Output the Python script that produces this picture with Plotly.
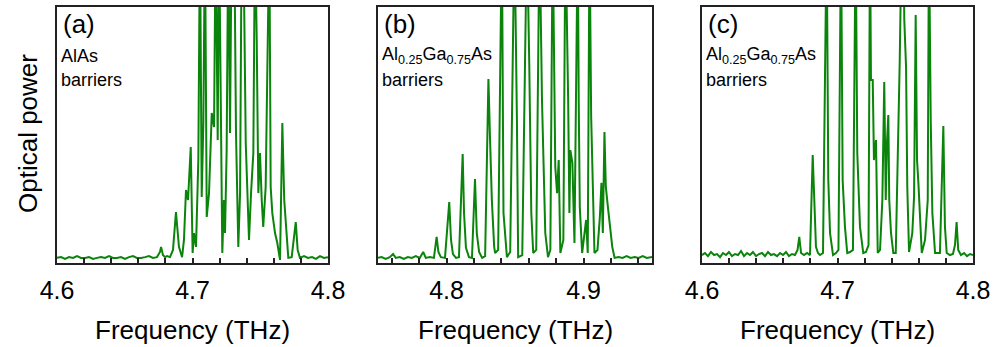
import plotly.graph_objects as go

# ---------------- data ----------------
# Panel (a): AlAs barriers
freq_a = [4.6000, 4.6030, 4.6059, 4.6089, 4.6118, 4.6148, 4.6177, 4.6207, 4.6236, 4.6266,
          4.6295, 4.6325, 4.6354, 4.6384, 4.6413, 4.6443, 4.6472, 4.6502, 4.6531, 4.6561,
          4.6590, 4.6620, 4.6649, 4.6679, 4.6708, 4.6738, 4.6760, 4.6768, 4.6782, 4.6797,
          4.6812, 4.6834, 4.6856, 4.6878, 4.6900, 4.6923, 4.6937, 4.6952, 4.6967, 4.6987,
          4.7001, 4.7011, 4.7026, 4.7043, 4.7055, 4.7068, 4.7080, 4.7092, 4.7105, 4.7122,
          4.7142, 4.7159, 4.7171, 4.7186, 4.7196, 4.7208, 4.7220, 4.7232, 4.7240, 4.7252,
          4.7264, 4.7277, 4.7289, 4.7299, 4.7308, 4.7321, 4.7338, 4.7351, 4.7363, 4.7369,
          4.7375, 4.7393, 4.7407, 4.7417, 4.7432, 4.7449, 4.7461, 4.7474, 4.7486, 4.7498,
          4.7511, 4.7522, 4.7540, 4.7555, 4.7567, 4.7577, 4.7589, 4.7609, 4.7626, 4.7646,
          4.7663, 4.7677, 4.7690, 4.7707, 4.7732, 4.7762, 4.7776, 4.7793, 4.7823, 4.7852,
          4.7882, 4.7911, 4.7941, 4.7970, 4.8000]
power_a = [2.0, 2.3, 1.6, 2.3, 2.0, 2.7, 2.0, 2.0, 2.3, 1.6,
           2.0, 2.3, 2.0, 2.7, 2.0, 2.0, 2.3, 1.6, 2.3, 2.7,
           2.0, 2.0, 2.3, 2.7, 2.0, 2.3, 4.3, 6.3, 3.1, 2.3,
           2.7, 2.3, 5.1, 19.9, 6.3, 2.3, 9.0, 28.5, 24.6, 45.3,
           3.9, 11.7, 6.3, 40.2, 130.0, 25.8, 54.7, 130.0, 18.0, 27.3,
           58.6, 53.1, 130.0, 48.0, 130.0, 76.6, 3.9, 24.6, 11.7, 44.1,
           130.0, 50.8, 130.0, 100.0, 130.0, 50.8, 6.3, 27.3, 130.0, 100.0,
           130.0, 46.9, 24.6, 9.0, 27.3, 43.0, 130.0, 87.1, 27.3, 43.0,
           24.6, 14.1, 29.7, 91.0, 130.0, 29.7, 19.5, 11.7, 7.8, 1.2,
           54.7, 24.6, 14.1, 2.0, 2.3, 16.0, 5.1, 2.0, 2.7, 2.0,
           2.3, 1.6, 2.7, 2.0, 2.3]

# Panel (b): Al0.25Ga0.75As barriers
freq_b = [4.7500, 4.7527, 4.7556, 4.7586, 4.7610, 4.7630, 4.7659, 4.7688, 4.7718, 4.7747,
          4.7776, 4.7805, 4.7830, 4.7849, 4.7879, 4.7908, 4.7928, 4.7941, 4.7959, 4.7989,
          4.8020, 4.8033, 4.8047, 4.8069, 4.8091, 4.8118, 4.8128, 4.8142, 4.8164, 4.8186,
          4.8208, 4.8221, 4.8238, 4.8260, 4.8282, 4.8306, 4.8318, 4.8331, 4.8348, 4.8355,
          4.8377, 4.8404, 4.8416, 4.8441, 4.8465, 4.8496, 4.8514, 4.8523, 4.8553, 4.8587,
          4.8604, 4.8619, 4.8633, 4.8655, 4.8679, 4.8697, 4.8721, 4.8741, 4.8758, 4.8775,
          4.8794, 4.8807, 4.8819, 4.8831, 4.8853, 4.8868, 4.8888, 4.8897, 4.8904, 4.8919,
          4.8934, 4.8958, 4.8965, 4.8973, 4.8990, 4.9019, 4.9031, 4.9044, 4.9056, 4.9071,
          4.9080, 4.9102, 4.9119, 4.9131, 4.9141, 4.9153, 4.9163, 4.9178, 4.9192, 4.9210,
          4.9227, 4.9256, 4.9285, 4.9315, 4.9344, 4.9374, 4.9403, 4.9432, 4.9462, 4.9500]
power_b = [2.0, 2.3, 1.6, 2.3, 3.5, 2.0, 2.3, 1.6, 2.3, 2.0,
           2.7, 2.0, 4.3, 2.0, 2.3, 2.0, 10.2, 4.3, 2.3, 2.0,
           23.8, 9.0, 3.5, 2.0, 2.3, 42.6, 19.5, 5.9, 2.3, 2.0,
           32.8, 11.7, 4.3, 2.0, 2.7, 71.9, 48.0, 24.6, 6.3, 3.9,
           5.1, 130.0, 19.5, 2.3, 4.3, 130.0, 55.9, 2.3, 3.1, 130.0,
           78.1, 19.5, 3.9, 5.1, 130.0, 63.7, 11.7, 2.3, 5.1, 130.0,
           37.5, 27.3, 40.2, 3.9, 9.0, 130.0, 63.7, 19.5, 44.1, 39.1,
           7.8, 130.0, 63.7, 21.9, 3.9, 16.8, 3.9, 130.0, 57.0, 24.6,
           3.9, 5.1, 17.6, 31.3, 11.7, 51.2, 29.7, 21.9, 14.1, 6.3,
           2.0, 2.3, 2.0, 2.7, 2.0, 2.3, 2.0, 2.7, 2.0, 2.3]

# Panel (c): Al0.25Ga0.75As barriers
freq_c = [4.6000, 4.6022, 4.6044, 4.6066, 4.6089, 4.6111, 4.6133, 4.6155, 4.6177, 4.6199,
          4.6221, 4.6244, 4.6266, 4.6288, 4.6310, 4.6332, 4.6354, 4.6376, 4.6399, 4.6421,
          4.6443, 4.6465, 4.6487, 4.6509, 4.6531, 4.6554, 4.6576, 4.6598, 4.6620, 4.6642,
          4.6664, 4.6686, 4.6705, 4.6718, 4.6731, 4.6753, 4.6775, 4.6797, 4.6817, 4.6827,
          4.6841, 4.6856, 4.6871, 4.6893, 4.6920, 4.6932, 4.6945, 4.6967, 4.6989, 4.7007,
          4.7026, 4.7038, 4.7055, 4.7072, 4.7092, 4.7114, 4.7134, 4.7146, 4.7166, 4.7190,
          4.7210, 4.7229, 4.7240, 4.7247, 4.7260, 4.7269, 4.7284, 4.7297, 4.7314, 4.7331,
          4.7345, 4.7356, 4.7365, 4.7375, 4.7382, 4.7395, 4.7412, 4.7430, 4.7444, 4.7459,
          4.7474, 4.7486, 4.7493, 4.7506, 4.7515, 4.7528, 4.7552, 4.7565, 4.7577, 4.7587,
          4.7597, 4.7607, 4.7622, 4.7646, 4.7666, 4.7675, 4.7688, 4.7700, 4.7720, 4.7756,
          4.7781, 4.7793, 4.7806, 4.7830, 4.7852, 4.7867, 4.7879, 4.7891, 4.7911, 4.7934,
          4.7956, 4.7978, 4.8000]
power_c = [3.1, 3.9, 2.7, 4.3, 3.1, 3.5, 2.3, 3.9, 3.1, 4.3,
           2.7, 3.5, 3.1, 4.7, 2.7, 3.9, 3.1, 4.3, 2.7, 3.5,
           3.9, 2.7, 4.3, 3.1, 3.5, 2.7, 3.9, 3.1, 4.3, 2.7,
           3.5, 3.1, 5.1, 10.2, 3.9, 3.1, 3.9, 3.1, 42.2, 24.6,
           6.3, 3.9, 3.1, 3.9, 130.0, 32.4, 11.7, 3.1, 3.9, 5.1,
           130.0, 32.4, 14.1, 3.9, 4.3, 5.1, 130.0, 43.0, 14.1, 3.9,
           4.3, 7.0, 130.0, 71.5, 71.5, 40.2, 48.0, 3.9, 5.1, 24.6,
           70.7, 24.6, 46.9, 57.8, 24.6, 11.7, 3.9, 3.9, 39.1, 78.1,
           130.0, 130.0, 94.9, 76.6, 29.7, 4.3, 11.7, 25.8, 96.9, 40.2,
           31.3, 21.9, 3.9, 9.0, 24.6, 130.0, 55.9, 19.5, 3.9, 3.9,
           53.5, 14.1, 3.9, 3.1, 3.5, 7.0, 16.0, 5.1, 3.1, 3.9,
           2.7, 3.5, 3.1]

ranges = [[4.6, 4.8], [4.75, 4.95], [4.6, 4.8]]
major_ticks = [[4.6, 4.7, 4.8], [4.8, 4.9], [4.6, 4.7, 4.8]]
major_labels = [["4.6", "4.7", "4.8"], ["4.8", "4.9"], ["4.6", "4.7", "4.8"]]
minor_start = [4.60, 4.76, 4.60]
minor_step = 0.02
panel_tags = ["(a)", "(b)", "(c)"]
panel_notes = [["AlAs", "barriers"],
               ["Al<sub>0.25</sub>Ga<sub>0.75</sub>As", "barriers"],
               ["Al<sub>0.25</sub>Ga<sub>0.75</sub>As", "barriers"]]
x_title = "Frequency (THz)"
y_title = "Optical power"

# ---------------- figure ----------------
W, H = 995, 347
FONT = "Liberation Sans, Arial, sans-serif"
GREEN = "#0a840a"
x_domains = [[57 / W, 328 / W], [378 / W, 652 / W], [702 / W, 973 / W]]
y_domain = [1 - 263 / H, 1 - 7 / H]

fig = go.Figure()
series = [(freq_a, power_a), (freq_b, power_b), (freq_c, power_c)]
for i, (fx, py) in enumerate(series):
    suffix = "" if i == 0 else str(i + 1)
    fig.add_trace(go.Scatter(x=fx, y=py, mode="lines",
                             line=dict(color=GREEN, width=2),
                             xaxis="x" + suffix, yaxis="y" + suffix,
                             showlegend=False, hoverinfo="skip"))

layout = dict(width=W, height=H, margin=dict(l=0, r=0, t=0, b=0),
              paper_bgcolor="white", plot_bgcolor="white",
              font=dict(family=FONT, color="black"))
annotations = []
for i in range(3):
    suffix = "" if i == 0 else str(i + 1)
    layout["xaxis" + suffix] = dict(
        domain=x_domains[i], range=ranges[i], anchor="y" + suffix, automargin=False,
        showline=True, mirror=True, linecolor="#222", linewidth=1.5,
        ticks="inside", ticklen=5, tickwidth=1.5, tickcolor="#222",
        tickvals=major_ticks[i], ticktext=major_labels[i],
        minor=dict(ticks="inside", tick0=minor_start[i], dtick=minor_step,
                   ticklen=5, tickwidth=1.5, tickcolor="#222", showgrid=False),
        tickfont=dict(size=25, family=FONT), ticklabelstandoff=4,
        showgrid=False, zeroline=False)
    layout["yaxis" + suffix] = dict(
        domain=y_domain, range=[0, 100], anchor="x" + suffix, automargin=False,
        showline=True, mirror=True, linecolor="#222", linewidth=1.5,
        ticks="", showticklabels=False, showgrid=False, zeroline=False)
    xref = "x" + suffix + " domain"
    yref = "y" + suffix + " domain"
    annotations.append(dict(text=panel_tags[i], x=0.015, y=0.935, xref=xref, yref=yref,
                            xanchor="left", yanchor="middle", showarrow=False,
                            font=dict(size=26, family=FONT)))
    annotations.append(dict(text=panel_notes[i][0], x=0.008, y=0.81, xref=xref, yref=yref,
                            xanchor="left", yanchor="middle", showarrow=False,
                            font=dict(size=18, family=FONT)))
    annotations.append(dict(text=panel_notes[i][1], x=0.008, y=0.715, xref=xref, yref=yref,
                            xanchor="left", yanchor="middle", showarrow=False,
                            font=dict(size=18, family=FONT)))
    annotations.append(dict(text=x_title, x=0.5, y=(H - 330) / H, xref=xref, yref="paper",
                            xanchor="center", yanchor="middle", showarrow=False,
                            font=dict(size=26, family=FONT)))

annotations.append(dict(text=y_title, x=28 / W, y=(H - 134) / H, xref="paper", yref="paper",
                        xanchor="center", yanchor="middle", showarrow=False, textangle=-90,
                        font=dict(size=26, family=FONT)))
layout["annotations"] = annotations
fig.update_layout(**layout)
fig.write_html("out.html", config={"displayModeBar": False},
               post_script="document.body.style.margin='0';document.body.style.overflow='hidden';")
